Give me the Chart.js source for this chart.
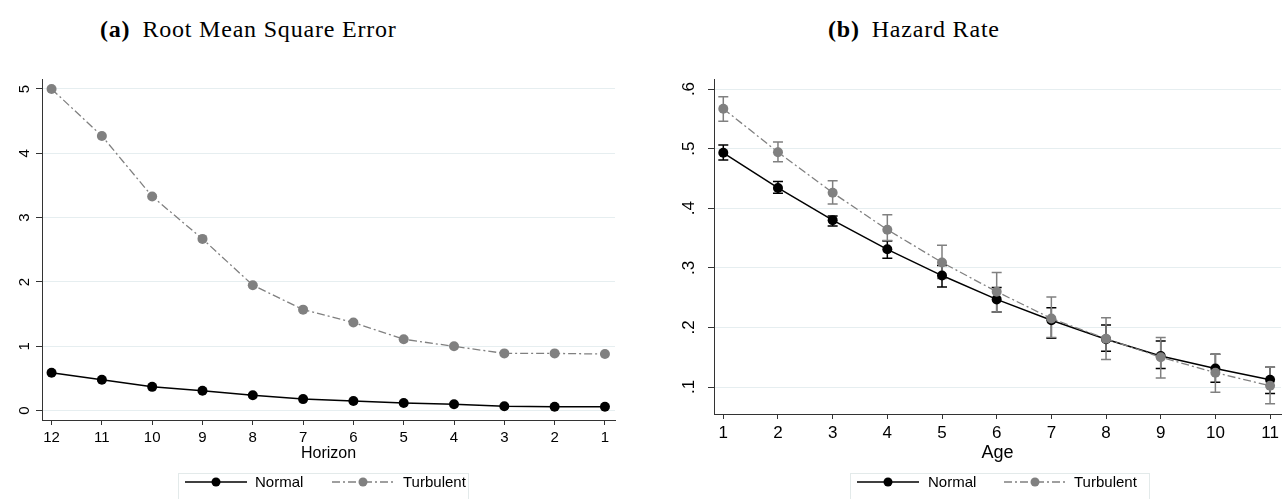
<!DOCTYPE html>
<html>
<head>
<meta charset="utf-8">
<script src="https://cdn.jsdelivr.net/npm/chart.js@4.4.1/dist/chart.umd.min.js"></script>
<style>
    body { margin: 0; background: #fff; width: 1286px; height: 499px; overflow: hidden; position: relative; font-family: "Liberation Sans", Arial, sans-serif; }
    .ttl { position: absolute; top: 15px; font-family: "Liberation Serif", serif; font-size: 24px; line-height: 28px; white-space: nowrap; color: #000; letter-spacing: 0.8px; }
    .ttl b { margin-right: 12px; }
    canvas { position: absolute; top: 0; }
    .leg { position: absolute; top: 473px; height: 34px; border: 1px solid #e3eaea; box-sizing: border-box; font-size: 15px; color: #000; }
    .leg svg, .leg span { position: absolute; top: 0; }
    .leg span { line-height: 16px; top: 0px; }
</style>
</head>
<body>
<div class="ttl" style="left:100px"><b>(a)</b>Root Mean Square Error</div>
<div class="ttl" style="left:828px"><b>(b)</b>Hazard Rate</div>

<canvas id="rmse" width="643" height="499" style="left:0"></canvas>
<canvas id="hazard" width="643" height="499" style="left:643px"></canvas>

<div class="leg" style="left:178px;width:291px">
    <svg style="left:6px" width="62" height="16"><line x1="0" y1="8" x2="62" y2="8" stroke="#000" stroke-width="1.5"/><circle cx="31" cy="8" r="4.5" fill="#000"/></svg>
    <span style="left:76px">Normal</span>
    <svg style="left:153px" width="62" height="16"><line x1="0" y1="8" x2="62" y2="8" stroke="#808080" stroke-width="1.3" stroke-dasharray="8,3,2,3"/><circle cx="31" cy="8" r="4.5" fill="#808080"/></svg>
    <span style="left:224px">Turbulent</span>
</div>
<div class="leg" style="left:850px;width:300px">
    <svg style="left:6px" width="62" height="16"><line x1="0" y1="8" x2="62" y2="8" stroke="#000" stroke-width="1.5"/><circle cx="31" cy="8" r="4.5" fill="#000"/></svg>
    <span style="left:77px">Normal</span>
    <svg style="left:153px" width="62" height="16"><line x1="0" y1="8" x2="62" y2="8" stroke="#808080" stroke-width="1.3" stroke-dasharray="8,3,2,3"/><circle cx="31" cy="8" r="4.5" fill="#808080"/></svg>
    <span style="left:223px">Turbulent</span>
</div>

<script>
// (a) RMSE por horizonte
const horizons = [12, 11, 10, 9, 8, 7, 6, 5, 4, 3, 2, 1];
const rmseNormal = [0.59, 0.48, 0.37, 0.31, 0.24, 0.18, 0.15, 0.12, 0.10, 0.07, 0.06, 0.06];
const rmseTurbulent = [5.0, 4.27, 3.33, 2.67, 1.95, 1.57, 1.37, 1.11, 1.0, 0.89, 0.89, 0.88];
const rmseYTicks = [0, 1, 2, 3, 4, 5];

// (b) hazard por edad, con intervalos
const ages = [1, 2, 3, 4, 5, 6, 7, 8, 9, 10, 11];
const hazardNormal = [0.493, 0.434, 0.380, 0.331, 0.287, 0.247, 0.212, 0.180, 0.152, 0.131, 0.112];
const hazardNormalLo = [0.481, 0.425, 0.370, 0.316, 0.268, 0.226, 0.182, 0.160, 0.131, 0.108, 0.089];
const hazardNormalHi = [0.506, 0.445, 0.387, 0.345, 0.304, 0.267, 0.233, 0.204, 0.177, 0.155, 0.133];
const hazardTurbulent = [0.567, 0.494, 0.426, 0.364, 0.309, 0.260, 0.215, 0.181, 0.150, 0.124, 0.102];
const hazardTurbulentLo = [0.546, 0.478, 0.407, 0.346, 0.282, 0.226, 0.183, 0.146, 0.115, 0.091, 0.072];
const hazardTurbulentHi = [0.587, 0.511, 0.446, 0.389, 0.338, 0.292, 0.251, 0.216, 0.183, 0.155, 0.133];
const hazardYTicks = [0.1, 0.2, 0.3, 0.4, 0.5, 0.6];

const colors = {
    normal: '#000000',
    turbulent: '#808080',
    grid: '#e6eef0',
    axis: '#333333',
};

function toPoints(xs, ys) {
    return xs.map((x, i) => ({ x: x, y: ys[i] }));
}

// barras de error (no viene en Chart.js)
const errorBars = {
    id: 'errorBars',
    beforeDatasetsDraw(chart, args, opts) {
        if (!opts.bars) return;
        const ctx = chart.ctx;
        const x = chart.scales.x;
        const y = chart.scales.y;
        ctx.save();
        opts.bars.forEach(b => {
            ctx.strokeStyle = b.color;
            ctx.lineWidth = 1.5;
            b.xs.forEach((xv, i) => {
                const px = x.getPixelForValue(xv);
                const lo = y.getPixelForValue(b.lo[i]);
                const hi = y.getPixelForValue(b.hi[i]);
                ctx.beginPath();
                ctx.moveTo(px, lo); ctx.lineTo(px, hi);
                ctx.moveTo(px - 5, lo); ctx.lineTo(px + 5, lo);
                ctx.moveTo(px - 5, hi); ctx.lineTo(px + 5, hi);
                ctx.stroke();
            });
        });
        ctx.restore();
    }
};

function lineDataset(label, data, color, dashed, order) {
    return {
        label: label,
        data: data,
        borderColor: color,
        backgroundColor: color,
        borderWidth: dashed ? 1.3 : 1.5,
        borderDash: dashed ? [8, 3, 2, 3] : [],
        pointRadius: 5,
        pointBorderWidth: 0,
        pointBackgroundColor: color,
        tension: 0,
        order: order,
    };
}

function makeChart(id, cfg) {
    return new Chart(document.getElementById(id), {
        type: 'line',
        data: { datasets: cfg.datasets },
        plugins: [errorBars],
        options: {
            responsive: false,
            animation: false,
            devicePixelRatio: 1,
            layout: { padding: cfg.padding },
            plugins: {
                legend: { display: false },
                tooltip: { enabled: false },
                errorBars: { bars: cfg.bars },
            },
            scales: {
                x: {
                    type: 'linear',
                    reverse: cfg.reverse,
                    min: cfg.xMin,
                    max: cfg.xMax,
                    afterBuildTicks: s => { s.ticks = cfg.xTicks.map(v => ({ value: v })); },
                    afterFit: s => { s.height = cfg.xHeight; },
                    grid: { drawOnChartArea: false, tickLength: 5, tickColor: colors.axis },
                    border: { color: colors.axis, width: 1 },
                    ticks: { color: '#000', padding: 4, maxRotation: 0, font: { family: 'Liberation Sans', size: cfg.xFont } },
                    title: { display: true, text: cfg.xTitle, color: '#000', padding: 0, font: { family: 'Liberation Sans', size: cfg.titleFont } },
                },
                y: {
                    min: cfg.yMin,
                    max: cfg.yMax,
                    afterBuildTicks: s => { s.ticks = cfg.yTicks.map(v => ({ value: v })); },
                    afterFit: s => { s.width = cfg.yWidth; },
                    grid: { color: colors.grid, lineWidth: 1, tickLength: 6, tickColor: colors.axis },
                    border: { color: colors.axis, width: 1 },
                    ticks: {
                        color: '#000',
                        minRotation: 90,
                        maxRotation: 90,
                        crossAlign: 'center',
                        padding: cfg.yPad,
                        font: { family: 'Liberation Sans', size: cfg.yFont },
                        callback: cfg.yFormat,
                    },
                },
            },
        },
    });
}

makeChart('rmse', {
    datasets: [
        lineDataset('Normal', toPoints(horizons, rmseNormal), colors.normal, false, 1),
        lineDataset('Turbulent', toPoints(horizons, rmseTurbulent), colors.turbulent, true, 0),
    ],
    padding: { left: 0, right: 28, top: 79, bottom: 36 },
    reverse: true, xMin: 0.8, xMax: 12.19, xTicks: horizons, xHeight: 43, xFont: 15,
    xTitle: 'Horizon', titleFont: 16,
    yMin: -0.145, yMax: 5.155, yTicks: rmseYTicks, yWidth: 42, yPad: 7, yFont: 15,
    yFormat: v => String(v),
});

makeChart('hazard', {
    datasets: [
        lineDataset('Normal', toPoints(ages, hazardNormal), colors.normal, false, 1),
        lineDataset('Turbulent', toPoints(ages, hazardTurbulent), colors.turbulent, true, 0),
    ],
    bars: [
        { xs: ages, lo: hazardNormalLo, hi: hazardNormalHi, color: colors.normal },
        { xs: ages, lo: hazardTurbulentLo, hi: hazardTurbulentHi, color: colors.turbulent },
    ],
    padding: { left: 30, right: 0, top: 79, bottom: 35 },
    reverse: false, xMin: 0.83, xMax: 11.2, xTicks: ages, xHeight: 50, xFont: 17,
    xTitle: 'Age', titleFont: 18,
    yMin: 0.0547, yMax: 0.6168, yTicks: hazardYTicks, yWidth: 41, yPad: 12, yFont: 17,
    yFormat: v => v.toFixed(1).replace(/^0/, ''),
});
</script>
</body>
</html>
